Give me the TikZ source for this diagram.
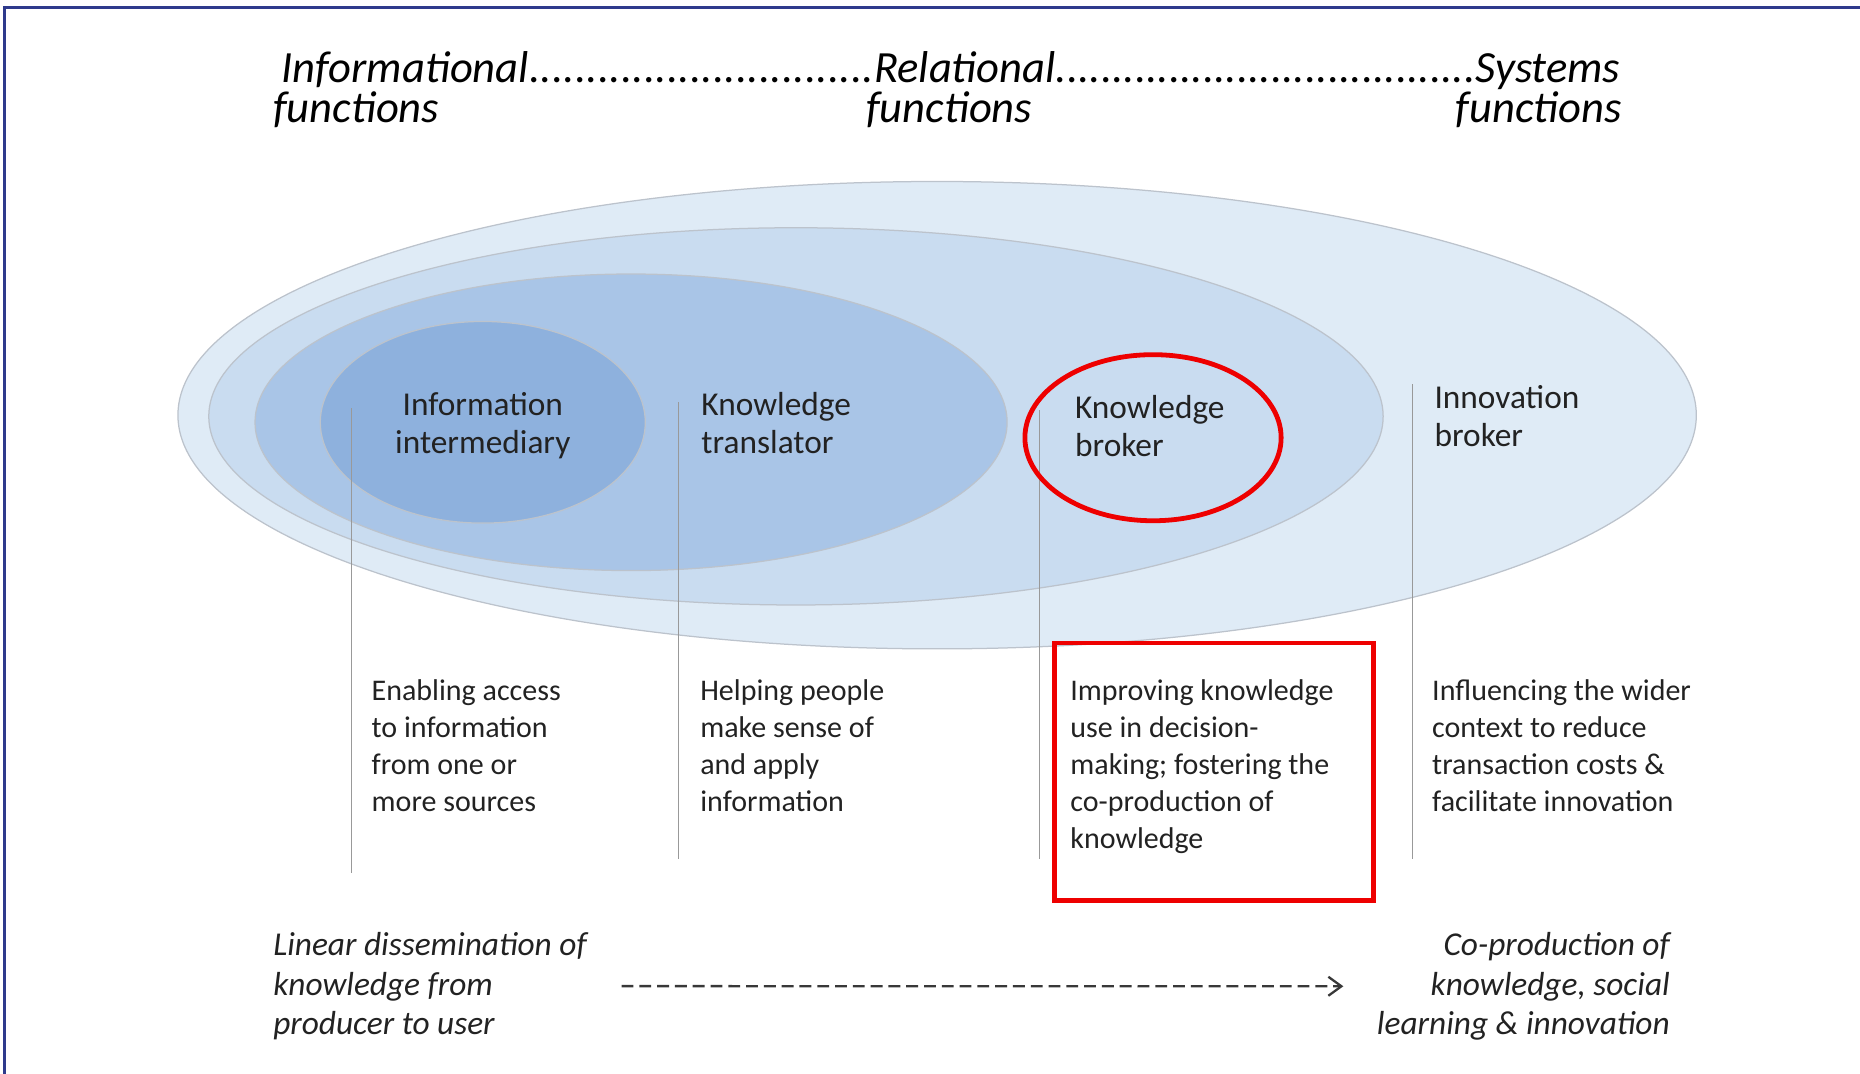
\documentclass[tikz,border=0pt]{standalone}
\usepackage{fontspec}
\setmainfont{Carlito}
\usetikzlibrary{arrows.meta}
\definecolor{ringA}{HTML}{DFEBF6}
\definecolor{ringB}{HTML}{C9DCF0}
\definecolor{ringC}{HTML}{A9C5E7}
\definecolor{ringD}{HTML}{8EB1DD}
\definecolor{ringline}{HTML}{BCC3CC}
\definecolor{ink}{HTML}{222222}
\definecolor{framecol}{HTML}{2E3A8C}
\definecolor{mark}{HTML}{EE0000}
\newcommand{\dotrow}[1]{\hbox to #1{\xleaders\hbox{.}\hfill}}

\begin{document}
\begin{tikzpicture}[x=0.02cm,y=-0.02cm,
  ring/.style={draw=ringline,line width=0.6pt},
  head node/.style={font=\fontsize{21.4}{18.8}\selectfont\itshape,inner sep=0pt,text=black},
  role node/.style={font=\fontsize{16}{18.2}\selectfont,inner sep=0pt,text=ink},
  note node/.style={font=\fontsize{14.4}{17.7}\selectfont,inner sep=0pt,text=ink,align=left},
  flow node/.style={font=\fontsize{16}{18.9}\selectfont\itshape,inner sep=0pt,text=ink},
  divider/.style={draw=gray!80,line width=0.6pt},
  highlight/.style={draw=mark,line width=2.3pt}]

  \useasboundingbox (0,0) rectangle (1568,905);
  \draw[framecol,line width=1.4pt] (4,905) -- (4,6) -- (1568,6);

  % header (base = last line)
  \node[head node,anchor=base west,align=left] (scale) at (230,103)
    {\hbox to 22.74cm{\hspace{0.14cm}Informational\dotrow{5.64cm}.Relational\xleaders\hbox{.}\hfill Systems}\\
     \hbox to 22.74cm{\makebox[10cm][l]{functions}functions\hfill functions}};

  % nested rings
  \draw[ring,fill=ringA] (790,350) ellipse [x radius=640, y radius=197];
  \draw[ring,fill=ringB] (671,351) ellipse [x radius=495, y radius=159];
  \draw[ring,fill=ringC] (532,356) ellipse [x radius=317, y radius=125];
  \draw[ring,fill=ringD] (407,356) ellipse [x radius=137, y radius=85];

  % dividers
  \draw[divider] (296,344) -- (296,736);
  \draw[divider] (572,339) -- (572,724);
  \draw[divider] (876,346) -- (876,724);
  \draw[divider] (1191,324) -- (1191,724);

  % roles
  \node[role node,anchor=base,align=center] (inter) at (407,382) {Information\\intermediary};
  \node[role node,anchor=base west,align=left] (trans) at (591,382) {Knowledge\\translator};
  \node[role node,anchor=base west,align=left] (kbrok) at (906,385) {Knowledge\\broker};
  \node[role node,anchor=base west,align=left] (ibrok) at (1209,376) {Innovation\\broker};

  % descriptions
  \node[note node,anchor=base west] (access) at (313,684) {Enabling access\\to information\\from one or\\more sources};
  \node[note node,anchor=base west] (sense) at (590,684) {Helping people\\make sense of\\and apply\\information};
  \node[note node,anchor=base west] (improve) at (902,715) {Improving knowledge\\use in decision-\\making; fostering the\\co-production of\\knowledge};
  \node[note node,anchor=base west] (context) at (1207,684) {Influencing the wider\\context to reduce\\transaction costs \&\\facilitate innovation};

  % highlights
  \draw[highlight] (972,369) ellipse [x radius=108, y radius=70];
  \draw[highlight] (889,542) rectangle (1158,759);

  % bottom line
  \node[flow node,anchor=base west,align=left] (linear) at (230,872) {Linear dissemination of\\knowledge from\\producer to user};
  \node[flow node,anchor=base east,align=right] (coprod) at (1408,872) {Co-production of\\knowledge, social\\learning \& innovation};
  \draw[ink!90,line width=1.1pt,dash pattern=on 0.2cm off 0.1cm,-{Straight Barb[length=0.22cm,width=0.32cm]},
    shorten <=0.58cm,shorten >=0.56cm] (linear.east) -- (coprod.west);

\end{tikzpicture}
\end{document}
